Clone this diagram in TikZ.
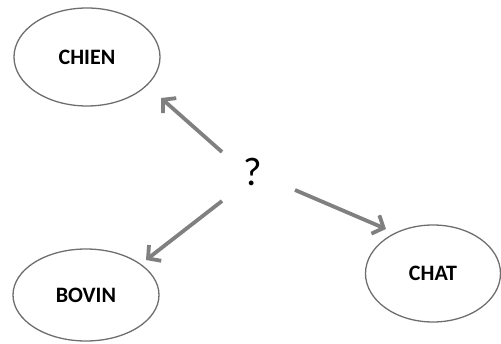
\documentclass[tikz,border=0pt]{standalone}
\usepackage{fontspec}
\setmainfont{Carlito}
\usetikzlibrary{shapes.geometric,arrows.meta}
\definecolor{ringgray}{RGB}{110,110,110}
\definecolor{arrowgray}{RGB}{128,128,128}
\tikzset{
  animal/.style={ellipse, draw=ringgray, line width=1.3pt, inner sep=0pt,
    font=\fontsize{22}{24}\selectfont\bfseries, text=black},
  linkarrow/.style={draw=arrowgray, line width=3.8pt,
    -{Straight Barb[length=9pt,width=20pt]}}
}
\begin{document}
\begin{tikzpicture}[x=1pt,y=-1pt]
\useasboundingbox (0,0) rectangle (501,344);
\node[animal, minimum width=146pt, minimum height=98pt] (chien) at (87,57) {CHIEN};
\node[animal, minimum width=146pt, minimum height=92pt] (bovin) at (86,295) {BOVIN};
\node[animal, minimum width=135pt, minimum height=97pt] (chat) at (433,273.5) {CHAT};
\node[font=\fontsize{40}{44}\selectfont, inner sep=0pt] (q) at (253,172) {?};
\coordinate (t1) at (222,152);
\coordinate (h1) at (161,98);
\coordinate (t2) at (222,201);
\coordinate (h2) at (146,260);
\coordinate (t3) at (295,190);
\coordinate (h3) at (386,229);
\draw[linkarrow] (t1) -- (h1);
\draw[linkarrow] (t2) -- (h2);
\draw[linkarrow] (t3) -- (h3);
\end{tikzpicture}
\end{document}
